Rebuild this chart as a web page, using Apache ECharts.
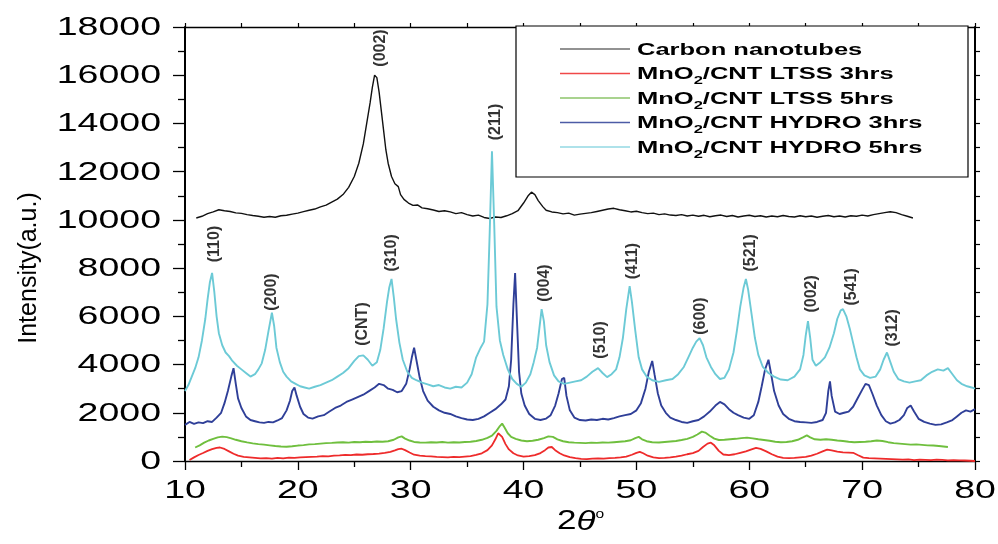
<!DOCTYPE html>
<html>
<head>
<meta charset="utf-8">
<script src="https://cdn.jsdelivr.net/npm/echarts@6/dist/echarts.min.js"></script>
<style>
html, body { margin: 0; padding: 0; background: #fff; }
#chart { width: 998px; height: 544px; }
</style>
</head>
<body>
<div id="chart"></div>
<script>
// XRD patterns, 2-theta (deg) vs intensity (a.u.)
const carbonNanotubes = [[11.0,10080],[11.5,10150],[12.0,10260],[12.5,10330],[13.0,10420],[13.5,10380],[14.0,10350],[14.5,10290],[15.0,10270],[15.5,10220],[16.0,10180],[16.5,10150],[17.0,10110],[17.5,10140],[18.0,10110],[18.5,10170],[19.0,10190],[19.5,10240],[20.0,10280],[20.5,10340],[21.0,10400],[21.5,10450],[22.0,10540],[22.5,10610],[23.0,10740],[23.5,10860],[24.0,11050],[24.5,11350],[25.0,11800],[25.4,12350],[25.8,13150],[26.1,14000],[26.4,14850],[26.6,15500],[26.8,16000],[27.0,15900],[27.2,15300],[27.4,14500],[27.6,13700],[27.8,12900],[28.0,12350],[28.3,11800],[28.6,11500],[28.9,11380],[29.1,11050],[29.4,10850],[29.8,10700],[30.2,10600],[30.6,10620],[31.0,10500],[31.5,10460],[32.0,10410],[32.5,10350],[33.0,10380],[33.5,10330],[34.0,10260],[34.5,10300],[35.0,10220],[35.5,10160],[36.0,10200],[36.5,10100],[37.0,10060],[37.5,10120],[38.0,10100],[38.5,10170],[39.0,10260],[39.5,10380],[40.0,10700],[40.4,11000],[40.7,11150],[41.0,11050],[41.3,10800],[41.7,10550],[42.0,10400],[42.5,10330],[43.0,10300],[43.5,10250],[44.0,10280],[44.5,10200],[45.0,10240],[45.5,10270],[46.0,10300],[46.5,10350],[47.0,10400],[47.5,10450],[48.0,10480],[48.5,10420],[49.0,10380],[49.5,10330],[50.0,10360],[50.5,10300],[51.0,10260],[51.5,10280],[52.0,10220],[52.5,10250],[53.0,10200],[53.5,10180],[54.0,10220],[54.5,10160],[55.0,10200],[55.5,10150],[56.0,10190],[56.5,10130],[57.0,10170],[57.5,10200],[58.0,10140],[58.5,10180],[59.0,10120],[59.5,10160],[60.0,10190],[60.5,10140],[61.0,10170],[61.5,10120],[62.0,10160],[62.5,10130],[63.0,10180],[63.5,10140],[64.0,10120],[64.5,10170],[65.0,10130],[65.5,10160],[66.0,10110],[66.5,10150],[67.0,10180],[67.5,10130],[68.0,10160],[68.5,10120],[69.0,10170],[69.5,10150],[70.0,10200],[70.5,10160],[71.0,10220],[71.5,10260],[72.0,10300],[72.5,10340],[73.0,10300],[73.5,10220],[74.0,10150],[74.5,10080]];

const ltss3 = [[10.4,40],[10.8,150],[11.2,250],[11.6,330],[12.0,420],[12.4,490],[12.8,540],[13.1,560],[13.5,500],[13.9,400],[14.3,300],[14.7,220],[15.2,170],[15.7,150],[16.2,130],[16.7,110],[17.2,120],[17.7,100],[18.2,130],[18.7,110],[19.2,140],[19.7,130],[20.2,150],[20.7,160],[21.2,170],[21.7,180],[22.2,200],[22.7,190],[23.2,220],[23.7,230],[24.2,250],[24.7,240],[25.2,270],[25.7,260],[26.2,280],[26.7,290],[27.2,310],[27.7,340],[28.2,380],[28.6,440],[28.9,490],[29.2,510],[29.5,450],[29.9,350],[30.3,260],[30.8,220],[31.3,200],[31.8,190],[32.3,170],[32.8,160],[33.3,150],[33.8,170],[34.3,160],[34.8,180],[35.3,200],[35.8,250],[36.3,320],[36.8,450],[37.2,650],[37.5,900],[37.75,1150],[37.9,1200],[38.1,1000],[38.4,700],[38.7,480],[39.1,320],[39.5,230],[40.0,180],[40.5,200],[41.0,240],[41.5,330],[41.9,450],[42.2,560],[42.5,580],[42.8,450],[43.2,320],[43.6,230],[44.1,160],[44.6,120],[45.1,90],[45.6,80],[46.1,100],[46.6,110],[47.1,100],[47.6,120],[48.1,130],[48.6,150],[49.1,180],[49.6,260],[50.0,340],[50.3,380],[50.6,320],[51.0,220],[51.5,150],[52.0,120],[52.5,130],[53.0,150],[53.5,180],[54.0,220],[54.5,280],[55.0,330],[55.5,420],[55.9,580],[56.3,720],[56.6,760],[56.9,650],[57.3,420],[57.7,270],[58.2,240],[58.7,280],[59.2,340],[59.7,400],[60.2,480],[60.6,540],[61.0,500],[61.5,400],[62.0,280],[62.5,180],[63.0,130],[63.5,120],[64.0,130],[64.5,150],[65.0,170],[65.5,220],[66.0,300],[66.5,400],[66.9,470],[67.3,440],[67.8,390],[68.3,360],[68.8,350],[69.2,340],[69.6,250],[70.1,140],[70.6,120],[71.1,110],[71.6,100],[72.1,90],[72.6,80],[73.1,70],[73.6,60],[74.1,70],[74.6,40],[75.1,60],[75.6,50],[76.1,40],[76.6,60],[77.1,50],[77.6,30],[78.1,40],[78.6,30],[79.1,20],[79.6,10],[80.0,0]];

const ltss5 = [[10.9,560],[11.3,650],[11.7,760],[12.1,850],[12.5,920],[12.9,980],[13.3,1010],[13.7,990],[14.1,940],[14.5,880],[15.0,820],[15.5,770],[16.0,730],[16.5,700],[17.0,680],[17.5,650],[18.0,620],[18.5,600],[19.0,590],[19.5,610],[20.0,640],[20.5,660],[21.0,690],[21.5,700],[22.0,720],[22.5,740],[23.0,750],[23.5,770],[24.0,780],[24.5,760],[25.0,790],[25.5,780],[26.0,800],[26.5,790],[27.0,810],[27.5,800],[28.0,820],[28.5,880],[28.9,980],[29.2,1020],[29.5,930],[29.9,850],[30.3,790],[30.8,770],[31.3,760],[31.8,780],[32.3,770],[32.8,790],[33.3,760],[33.8,780],[34.3,770],[34.8,790],[35.3,800],[35.8,830],[36.3,880],[36.8,960],[37.2,1050],[37.6,1250],[37.9,1450],[38.1,1550],[38.3,1400],[38.6,1150],[38.9,1000],[39.3,920],[39.8,850],[40.3,820],[40.8,840],[41.3,880],[41.8,950],[42.2,1020],[42.6,1000],[43.0,900],[43.5,820],[44.0,780],[44.5,760],[45.0,750],[45.5,740],[46.0,760],[46.5,750],[47.0,770],[47.5,760],[48.0,780],[48.5,800],[49.0,820],[49.5,860],[49.9,950],[50.2,1000],[50.5,900],[50.9,820],[51.4,780],[52.0,770],[52.5,790],[53.0,810],[53.5,830],[54.0,870],[54.5,920],[55.0,1000],[55.4,1100],[55.8,1220],[56.1,1180],[56.5,1050],[56.9,930],[57.3,870],[57.8,880],[58.3,900],[58.8,920],[59.3,950],[59.8,970],[60.3,940],[60.8,900],[61.3,870],[61.8,840],[62.3,800],[62.8,780],[63.3,790],[63.8,820],[64.3,880],[64.8,990],[65.1,1060],[65.4,980],[65.8,900],[66.3,880],[66.8,900],[67.3,880],[67.8,850],[68.3,830],[68.8,800],[69.3,780],[69.8,790],[70.3,800],[70.8,820],[71.3,850],[71.8,830],[72.3,780],[72.8,740],[73.3,720],[73.8,700],[74.3,680],[74.8,690],[75.3,670],[75.8,650],[76.3,640],[76.8,620],[77.2,600],[77.6,580]];

const hydro3 = [[10.0,1500],[10.4,1620],[10.8,1540],[11.2,1600],[11.6,1570],[12.0,1650],[12.4,1620],[12.8,1800],[13.2,2000],[13.5,2400],[13.8,2900],[14.1,3500],[14.3,3850],[14.5,3200],[14.7,2600],[15.0,2200],[15.4,1850],[15.8,1700],[16.2,1650],[16.6,1600],[17.0,1580],[17.4,1620],[17.8,1600],[18.2,1680],[18.6,1780],[19.0,2100],[19.3,2500],[19.5,2900],[19.7,3050],[19.9,2700],[20.2,2250],[20.5,1950],[20.9,1800],[21.3,1760],[21.8,1850],[22.3,1900],[22.8,2050],[23.3,2200],[23.8,2300],[24.3,2450],[24.8,2550],[25.3,2650],[25.8,2750],[26.3,2900],[26.8,3050],[27.2,3200],[27.6,3150],[28.0,3000],[28.4,2950],[28.8,2850],[29.2,2900],[29.6,3200],[29.9,3800],[30.1,4300],[30.3,4700],[30.5,4200],[30.8,3450],[31.1,2900],[31.5,2500],[32.0,2250],[32.5,2100],[33.0,2000],[33.5,1950],[34.0,1850],[34.5,1780],[35.0,1720],[35.5,1700],[36.0,1750],[36.5,1850],[37.0,2000],[37.5,2150],[38.0,2350],[38.4,2550],[38.7,3100],[38.9,4200],[39.1,6500],[39.25,7800],[39.4,6000],[39.6,3700],[39.8,2800],[40.1,2300],[40.5,1950],[41.0,1750],[41.5,1700],[42.0,1760],[42.4,1900],[42.8,2300],[43.1,2800],[43.4,3400],[43.6,3450],[43.8,2700],[44.1,2100],[44.5,1800],[45.0,1700],[45.5,1680],[46.0,1720],[46.5,1700],[47.0,1750],[47.5,1720],[48.0,1780],[48.5,1850],[49.0,1900],[49.5,1950],[50.0,2100],[50.4,2400],[50.8,3000],[51.1,3700],[51.4,4150],[51.6,3600],[51.9,2800],[52.2,2300],[52.6,2000],[53.0,1800],[53.5,1700],[54.0,1620],[54.5,1580],[55.0,1650],[55.5,1700],[56.0,1850],[56.5,2050],[57.0,2300],[57.4,2450],[57.8,2350],[58.2,2150],[58.6,2000],[59.0,1900],[59.5,1800],[60.0,1750],[60.4,1900],[60.8,2450],[61.1,3100],[61.4,3800],[61.7,4200],[61.9,3700],[62.2,2900],[62.6,2300],[63.0,1950],[63.5,1750],[64.0,1650],[64.5,1620],[65.0,1600],[65.5,1580],[66.0,1620],[66.5,1700],[66.8,2000],[67.0,2900],[67.15,3300],[67.3,2700],[67.6,2050],[68.0,1950],[68.4,2000],[68.8,2050],[69.2,2250],[69.6,2600],[70.0,2950],[70.3,3200],[70.6,3150],[70.9,2800],[71.3,2300],[71.7,1900],[72.1,1650],[72.5,1550],[72.9,1600],[73.3,1700],[73.7,1900],[74.0,2200],[74.3,2300],[74.6,2050],[75.0,1750],[75.5,1620],[76.0,1550],[76.5,1500],[77.0,1520],[77.5,1600],[78.0,1700],[78.4,1850],[78.8,2000],[79.2,2100],[79.6,2050],[80.0,2150]];

const hydro5 = [[10.0,2900],[10.3,3150],[10.6,3500],[10.9,3850],[11.2,4300],[11.5,5000],[11.8,5900],[12.0,6700],[12.2,7400],[12.4,7800],[12.6,7000],[12.8,6000],[13.0,5300],[13.3,4800],[13.6,4500],[13.9,4350],[14.2,4150],[14.6,3950],[15.0,3800],[15.4,3650],[15.8,3500],[16.2,3600],[16.5,3800],[16.8,4050],[17.1,4600],[17.4,5400],[17.7,6150],[17.9,5600],[18.1,4700],[18.4,4100],[18.7,3700],[19.0,3500],[19.4,3300],[19.8,3200],[20.2,3100],[20.6,3050],[21.0,3000],[21.5,3080],[22.0,3150],[22.5,3250],[23.0,3350],[23.5,3500],[24.0,3650],[24.5,3850],[25.0,4150],[25.4,4350],[25.8,4380],[26.2,4200],[26.6,3950],[27.0,4100],[27.3,4600],[27.6,5500],[27.9,6600],[28.1,7200],[28.3,7550],[28.5,6800],[28.7,5900],[29.0,4900],[29.3,4200],[29.7,3700],[30.1,3450],[30.5,3350],[31.0,3250],[31.5,3180],[32.0,3100],[32.5,3150],[33.0,3050],[33.5,3000],[34.0,3080],[34.5,3050],[35.0,3250],[35.4,3600],[35.8,4300],[36.2,4700],[36.5,4950],[36.8,6500],[37.0,9500],[37.2,12850],[37.4,9800],[37.6,6400],[37.9,5000],[38.2,4400],[38.6,3800],[39.0,3400],[39.4,3200],[39.8,3080],[40.2,3250],[40.6,3600],[40.9,4100],[41.2,4700],[41.4,5500],[41.6,6300],[41.8,5800],[42.0,4800],[42.3,4100],[42.7,3550],[43.1,3300],[43.6,3200],[44.1,3250],[44.6,3300],[45.1,3350],[45.6,3500],[46.1,3700],[46.6,3850],[47.0,3650],[47.4,3480],[47.8,3600],[48.2,3800],[48.5,4300],[48.8,5100],[49.1,6300],[49.4,7250],[49.6,6600],[49.9,5400],[50.2,4300],[50.5,3800],[50.9,3500],[51.4,3350],[52.0,3280],[52.6,3350],[53.2,3400],[53.7,3600],[54.2,3900],[54.6,4300],[55.0,4700],[55.3,4950],[55.6,5100],[55.9,4800],[56.2,4300],[56.6,3900],[57.0,3600],[57.4,3400],[57.8,3450],[58.2,3800],[58.6,4500],[58.9,5400],[59.2,6400],[59.5,7200],[59.7,7550],[59.9,7100],[60.2,6100],[60.5,5100],[60.8,4400],[61.2,3900],[61.7,3650],[62.2,3500],[62.8,3380],[63.4,3350],[64.0,3500],[64.5,3800],[64.8,4400],[65.0,5200],[65.2,5800],[65.4,5100],[65.6,4200],[65.9,3950],[66.3,4100],[66.7,4300],[67.1,4700],[67.5,5300],[67.8,5900],[68.1,6250],[68.3,6300],[68.6,6000],[68.9,5500],[69.2,4900],[69.5,4300],[69.8,3800],[70.2,3550],[70.7,3450],[71.2,3500],[71.6,3800],[71.9,4200],[72.2,4500],[72.5,4100],[72.8,3700],[73.2,3400],[73.7,3300],[74.2,3250],[74.7,3300],[75.2,3350],[75.7,3550],[76.2,3700],[76.7,3800],[77.2,3750],[77.6,3850],[78.0,3600],[78.4,3350],[78.8,3200],[79.3,3100],[79.7,3050],[80.0,3000]];

const seriesNames = ['Carbon nanotubes', 'MnO2/CNT LTSS 3hrs', 'MnO2/CNT LTSS 5hrs', 'MnO2/CNT HYDRO 3hrs', 'MnO2/CNT HYDRO 5hrs'];
const seriesColors = ['#111111', '#ee2b2b', '#6fbf3e', '#2f3f98', '#6ccad6'];
const seriesWidths = [1.4, 1.8, 1.9, 1.9, 1.9];
const legendColors = ['#6e6e6e', '#f04848', '#a9d38f', '#4c5ca6', '#aee2ea'];

const peakTags = ['(002)', '(211)', '(110)', '(200)', '(CNT)', '(310)', '(004)', '(510)', '(411)', '(600)', '(521)', '(002)', '(541)', '(312)'];
const peakTagAt = [[27.3,17130],[37.5,14060],[12.6,9000],[17.7,7010],[25.7,5680],[28.3,8630],[41.9,7380],[46.8,5020],[49.7,8290],[55.7,6010],[60.1,8630],[65.5,6930],[69.1,7220],[72.7,5520]];

const xTickLabels = [10, 20, 30, 40, 50, 60, 70, 80];
const yTickLabels = [0, 2000, 4000, 6000, 8000, 10000, 12000, 14000, 16000, 18000];

const FONT = '"Liberation Sans", Arial, Helvetica, sans-serif';
const chart = echarts.init(document.getElementById('chart'), null, { renderer: 'canvas' });

const dataSets = [carbonNanotubes, ltss3, ltss5, hydro3, hydro5];
const lineSeries = dataSets.map((d, i) => ({
  name: seriesNames[i],
  type: 'line',
  data: d,
  showSymbol: false,
  symbol: 'none',
  silent: true,
  lineStyle: { color: seriesColors[i], width: seriesWidths[i] },
  z: 2 + i
}));

const black = '#000';
chart.setOption({
  animation: false,
  backgroundColor: '#fff',
  grid: { left: 185, right: 23, top: 27, bottom: 83 },
  xAxis: [
    {
      type: 'value', min: 10, max: 80, interval: 10, position: 'bottom',
      axisLine: { show: true, lineStyle: { color: black, width: 1.3 } },
      axisTick: { show: true, inside: false, length: 9, lineStyle: { color: black, width: 1.3 } },
      minorTick: { show: true, splitNumber: 2, length: 6, lineStyle: { color: black, width: 1.3 } },
      axisLabel: { show: false },
      splitLine: { show: false }
    },
    {
      type: 'value', min: 10, max: 80, interval: 5, position: 'top',
      axisLine: { show: true, onZero: false, lineStyle: { color: black, width: 1.3 } },
      axisTick: { show: true, inside: false, length: 4, lineStyle: { color: black, width: 1.2 } },
      axisLabel: { show: false },
      splitLine: { show: false }
    }
  ],
  yAxis: [
    {
      type: 'value', min: 0, max: 18000, interval: 2000, position: 'left',
      axisLine: { show: true, lineStyle: { color: black, width: 2 } },
      axisTick: { show: true, inside: false, length: 12, lineStyle: { color: black, width: 1.3 } },
      minorTick: { show: true, splitNumber: 2, length: 7, lineStyle: { color: black, width: 1.3 } },
      axisLabel: { show: false },
      splitLine: { show: false }
    },
    {
      type: 'value', min: 0, max: 18000, interval: 1000, position: 'right',
      axisLine: { show: true, onZero: false, lineStyle: { color: black, width: 2 } },
      axisTick: { show: true, inside: false, length: 5, lineStyle: { color: black, width: 1.2 } },
      axisLabel: { show: false },
      splitLine: { show: false }
    }
  ],
  series: lineSeries.concat([{
    name: 'peaks',
    type: 'scatter',
    symbolSize: 0,
    silent: true,
    z: 20,
    data: peakTagAt.map((p, i) => ({ name: peakTags[i], value: p })),
    label: {
      show: true, position: 'inside', rotate: 90, formatter: '{b}',
      color: '#000', fontFamily: FONT, fontWeight: 'bold', fontSize: 16
    }
  }])
});

// Axis tick labels, legend and titles are drawn as wide (horizontally stretched) text
const K = 1.5;
const graphics = [];
yTickLabels.forEach(v => {
  const py = chart.convertToPixel({ yAxisIndex: 0 }, v);
  graphics.push({
    type: 'text', x: 161, y: py + 1, scaleX: K, silent: true,
    style: { text: String(v), fill: '#000', font: '25px ' + FONT, align: 'right', verticalAlign: 'middle' }
  });
});
xTickLabels.forEach(v => {
  const px = chart.convertToPixel({ xAxisIndex: 0 }, v);
  graphics.push({
    type: 'text', x: px, y: 491, scaleX: K, silent: true,
    style: { text: String(v), fill: '#000', font: '25px ' + FONT, align: 'center', verticalAlign: 'middle' }
  });
});

// axis titles
graphics.push({
  type: 'text', x: 29, y: 268, rotation: Math.PI / 2, scaleX: 1.0, silent: true,
  style: { text: 'Intensity(a.u.)', fill: '#000', font: '25px ' + FONT, align: 'center', verticalAlign: 'middle' }
});
graphics.push({
  type: 'text', x: 557, y: 522, scaleX: 1.3, silent: true,
  style: {
    text: '2{t|θ}{d|o}', fill: '#000', font: '27px ' + FONT, align: 'left', verticalAlign: 'middle',
    rich: {
      t: { font: 'italic 27px ' + FONT, fill: '#000' },
      d: { font: '12px ' + FONT, fill: '#000', verticalAlign: 'top' }
    }
  }
});

// legend box
graphics.push({
  type: 'rect', z: 50, silent: true,
  shape: { x: 516, y: 26, width: 452, height: 151 },
  style: { fill: '#fff', stroke: '#000', lineWidth: 1.2 }
});
seriesNames.forEach((n, i) => {
  const y = 49 + i * 24.5;
  graphics.push({
    type: 'line', z: 51, silent: true,
    shape: { x1: 560, y1: y, x2: 630, y2: y },
    style: { stroke: legendColors[i], lineWidth: i === 2 || i === 4 ? 2.2 : 1.3 }
  });
  graphics.push({
    type: 'text', z: 51, x: 637, y: y + 1, scaleX: K, silent: true,
    style: {
      text: n.replace('MnO2', 'MnO{s|2}'), fill: '#000', font: 'bold 17px ' + FONT,
      lineHeight: 24, align: 'left', verticalAlign: 'middle',
      rich: { s: { font: 'bold 11px ' + FONT, fill: '#000', verticalAlign: 'bottom' } }
    }
  });
});

chart.setOption({ graphic: { elements: graphics } });
</script>
</body>
</html>
